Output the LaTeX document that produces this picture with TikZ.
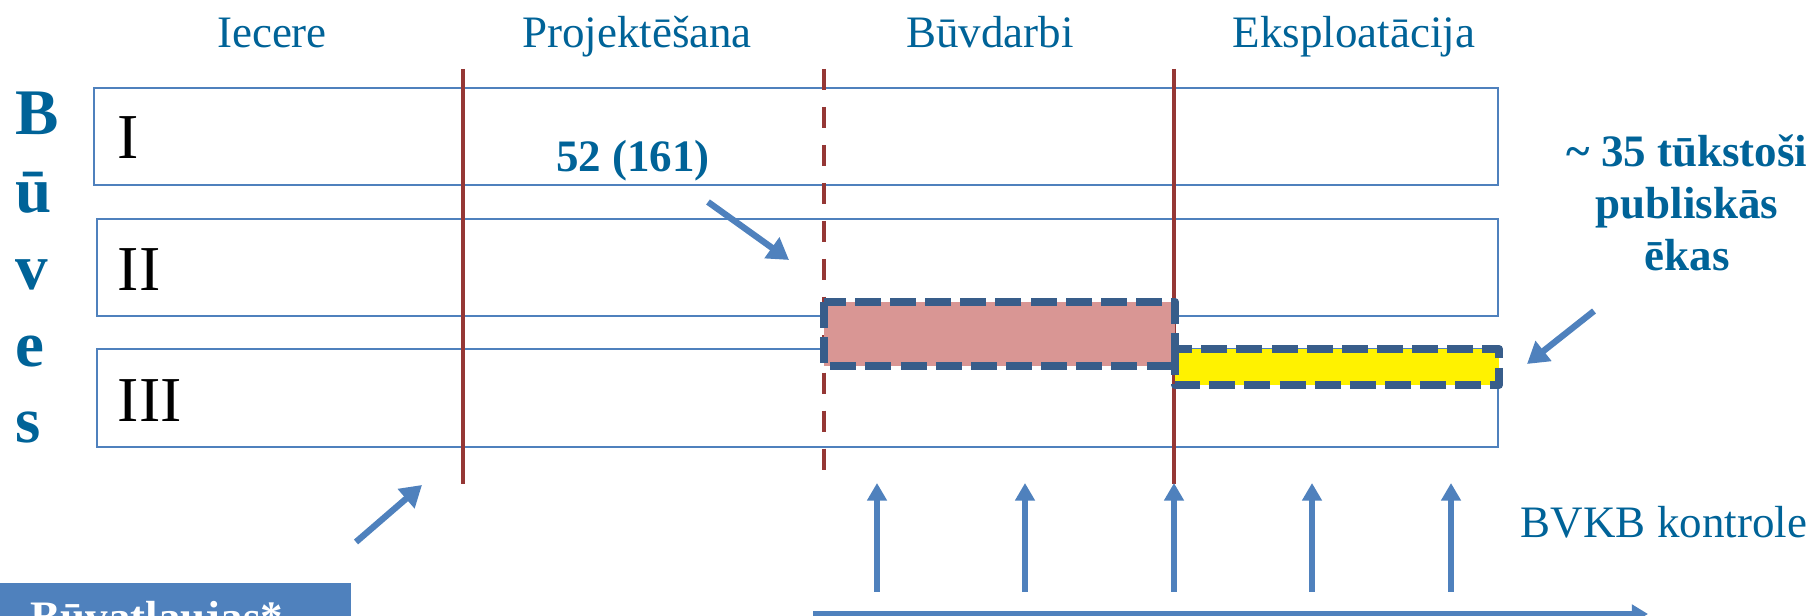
\documentclass[tikz,border=0pt]{standalone}
\usepackage{fontspec}
\setmainfont{Liberation Serif}
\usepackage{xcolor}
\usetikzlibrary{arrows.meta}

\definecolor{txtblue}{RGB}{0,99,152}
\definecolor{rowblue}{RGB}{79,129,189}
\definecolor{phasered}{RGB}{149,55,53}
\definecolor{dashblue}{RGB}{56,93,138}
\definecolor{stagepink}{RGB}{217,150,148}

\begin{document}
\begin{tikzpicture}[
    phase/.style={text=txtblue, font=\fontsize{12.8}{15}\selectfont, anchor=base, inner sep=0pt},
    note/.style={text=txtblue, font=\fontsize{12.8}{14.8}\selectfont\bfseries, inner sep=0pt},
    letter/.style={text=txtblue, font=\fontsize{18.5}{22}\selectfont\bfseries, anchor=base west, inner sep=0pt},
    roman/.style={font=\fontsize{18.2}{22}\selectfont, anchor=base west, inner sep=0pt},
    rowbox/.style={draw=rowblue, line width=0.7pt},
    phaseline/.style={draw=phasered, line width=1.3pt},
    stagebox/.style={draw=dashblue, line width=2.3pt, dash pattern=on 7.4pt off 2.6pt, line join=round},
    bluearrow/.style={draw=rowblue, line width=1.8pt, -{Triangle[width=7pt,length=6pt]}},
    uparrow/.style={draw=rowblue, line width=1.6pt, -{Triangle[width=5.4pt,length=5pt]}}
]
\useasboundingbox (0,0) rectangle (18.14,6.16);
\clip (0,0) rectangle (18.14,6.16);

% phases
\node[phase] (iecere) at (2.72,5.68) {Iecere};
\node[phase] (proj) at (6.37,5.68) {Projektēšana};
\node[phase] (buvd) at (9.90,5.68) {Būvdarbi};
\node[phase] (ekspl) at (13.54,5.68) {Eksploatācija};

% rows
\draw[rowbox] (0.94,5.28) rectangle (14.98,4.31);
\draw[rowbox] (0.97,3.97) rectangle (14.98,3.00);
\draw[rowbox] (0.97,2.67) rectangle (14.98,1.69);
\node[roman] (r1) at (1.17,4.57) {I};
\node[roman] (r2) at (1.17,3.25) {II};
\node[roman] (r3) at (1.17,1.94) {III};

% Būves
\node[letter] (l1) at (0.15,4.81) {B};
\node[letter] (l2) at (0.15,4.03) {ū};
\node[letter] (l3) at (0.15,3.26) {v};
\node[letter] (l4) at (0.15,2.49) {e};
\node[letter] (l5) at (0.15,1.73) {s};

% phase borders
\draw[phaseline] (4.63,5.47) -- (4.63,1.32);
\draw[phaseline, dash pattern=on 6pt off 4.8pt] (8.24,5.47) -- (8.24,1.45);
\draw[phaseline] (11.74,5.47) -- (11.74,1.32);

% stages
\draw[stagebox, fill=stagepink] (8.24,3.14) rectangle (11.75,2.50);
\draw[stagebox, fill=yellow] (11.75,2.67) rectangle (14.99,2.31);

% labels
\node[note, anchor=base] (n52) at (6.33,4.44) {52 (161)};
\node[note, anchor=north, align=center] (n35) at (16.87,4.82)
    {\textasciitilde{} 35 tūkstoši\\publiskās\\ēkas};
\node[phase] (bvkb) at (16.64,0.78) {BVKB kontrole};

% permits box
\fill[rowblue] (0,0.33) rectangle (3.51,-0.5);
\node[note, text=white, anchor=base west] (permit) at (0.30,-0.17) {Būvatļaujas*};

% arrows
\coordinate (a52s) at (7.08,4.14);
\coordinate (a52e) at (7.89,3.56);
\coordinate (a35s) at (15.94,3.05);
\coordinate (a35e) at (15.27,2.52);
\coordinate (aps) at (3.56,0.74);
\coordinate (ape) at (4.22,1.31);
\draw[bluearrow] (a52s) -- (a52e);
\draw[bluearrow] (a35s) -- (a35e);
\draw[bluearrow] (aps) -- (ape);

\coordinate (u1s) at (8.77,0.24);
\coordinate (u1e) at (8.77,1.33);
\coordinate (u2s) at (10.25,0.24);
\coordinate (u2e) at (10.25,1.33);
\coordinate (u3s) at (11.74,0.24);
\coordinate (u3e) at (11.74,1.33);
\coordinate (u4s) at (13.12,0.24);
\coordinate (u4e) at (13.12,1.33);
\coordinate (u5s) at (14.51,0.24);
\coordinate (u5e) at (14.51,1.33);
\draw[uparrow] (u1s) -- (u1e);
\draw[uparrow] (u2s) -- (u2e);
\draw[uparrow] (u3s) -- (u3e);
\draw[uparrow] (u4s) -- (u4e);
\draw[uparrow] (u5s) -- (u5e);

\coordinate (ts) at (8.13,0.02);
\coordinate (te) at (16.48,0.02);
\draw[draw=rowblue, line width=1.8pt, -{Triangle[width=5.2pt,length=4.6pt]}] (ts) -- (te);
\end{tikzpicture}
\end{document}
